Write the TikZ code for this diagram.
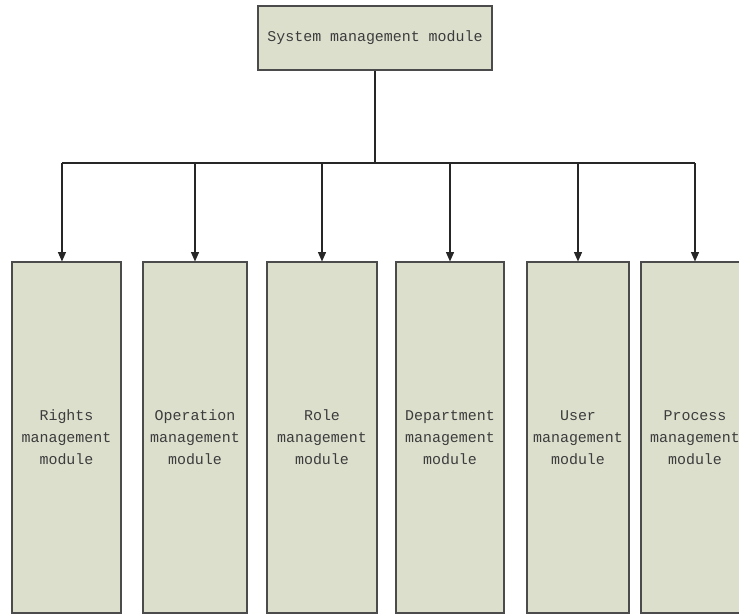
\documentclass[tikz,border=0pt]{standalone}
\usepackage{fontspec}
\setmonofont{Liberation Mono}
\usetikzlibrary{arrows.meta,positioning}

\definecolor{boxfill}{RGB}{221,223,205}
\definecolor{boxline}{RGB}{75,75,75}
\definecolor{boxtext}{RGB}{60,60,60}

\tikzset{
    module/.style={draw=boxline, fill=boxfill, line width=1.1pt, text=boxtext,
        font=\ttfamily\fontsize{11.2}{16.5}\selectfont, align=center, inner sep=0pt},
    submodule/.style={module, minimum height=263pt},
    link/.style={draw=black!85, line width=0.8pt},
    arrow/.style={link, -{Triangle[length=7pt,width=6pt]}}
}

\begin{document}
\begin{tikzpicture}[x=0.75pt,y=-0.75pt]
    \useasboundingbox (0,0) rectangle (739,615);

    \node[module, minimum width=175.5pt, minimum height=48pt] (system) at (375,38) {System management module};

    \node[submodule, minimum width=81.75pt] (rights) at (66.5,437.5) {Rights\\management\\module};
    \node[submodule, minimum width=78pt] (operation) at (195,437.5) {Operation\\management\\module};
    \node[submodule, minimum width=82.5pt] (role) at (322,437.5) {Role\\management\\module};
    \node[submodule, minimum width=81pt] (department) at (450,437.5) {Department\\management\\module};
    \node[submodule, minimum width=76.5pt] (user) at (578,437.5) {User\\management\\module};
    \node[submodule, minimum width=81pt] (process) at (695,437.5) {Process\\management\\module};

    \coordinate (bus) at (375,163);
    \draw[link] (system.south) -- (bus);
    \draw[link] ([xshift=-3.4pt]rights.north |- bus) -- (process.north |- bus);

    \draw[arrow] ([xshift=-3.4pt]rights.north |- bus) -- ([xshift=-3.4pt]rights.north);
    \foreach \m in {operation,role,department,user,process}
        \draw[arrow] (\m.north |- bus) -- (\m.north);
\end{tikzpicture}
\end{document}
